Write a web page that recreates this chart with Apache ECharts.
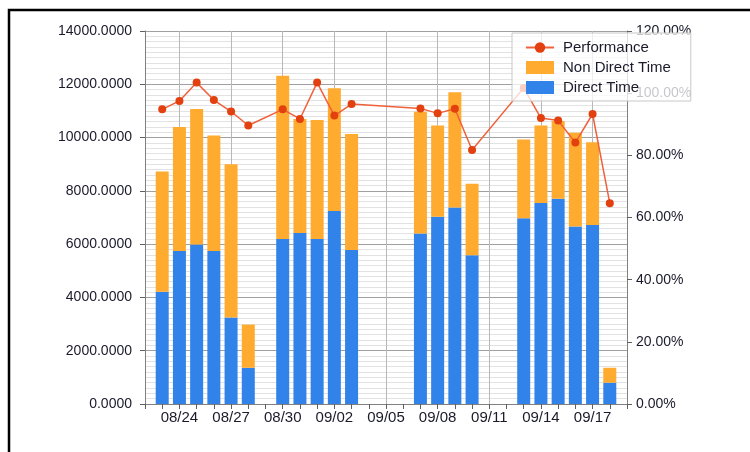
<!DOCTYPE html>
<html lang="en">
<head>
    <meta charset="UTF-8" />
    <title>Performance</title>
    <style>
        body {
            margin: 0;
            padding: 0;
            background: #fff;
        }
        .chart {
            width: 750px;
            height: 452px;
        }
    </style>
</head>
<body>
<div class="chart"></div>
<script src="https://cdn.jsdelivr.net/npm/echarts@6/dist/echarts.min.js"></script>
<script>
    // axis runs 08/22 .. 09/19, one category per day
    const days = ['08/22', '08/23', '08/24', '08/25', '08/26', '08/27', '08/28', '08/29', '08/30', '08/31',
        '09/01', '09/02', '09/03', '09/04', '09/05', '09/06', '09/07', '09/08', '09/09', '09/10',
        '09/11', '09/12', '09/13', '09/14', '09/15', '09/16', '09/17', '09/18', '09/19'];

    // days that have data
    const dates = ['08/23', '08/24', '08/25', '08/26', '08/27', '08/28',
        '08/30', '08/31', '09/01', '09/02', '09/03',
        '09/07', '09/08', '09/09', '09/10',
        '09/13', '09/14', '09/15', '09/16', '09/17', '09/18'];
    const directTime = [4210, 5740, 5990, 5740, 3250, 1360,
        6190, 6420, 6190, 7240, 5780,
        6400, 7030, 7380, 5580,
        6970, 7540, 7700, 6660, 6720, 800];
    const nonDirectTime = [4520, 4660, 5080, 4340, 5750, 1620,
        6130, 4280, 4470, 4610, 4350,
        4570, 3420, 4320, 2690,
        2960, 2910, 2920, 3520, 3100, 560];
    const performance = [94.8, 97.5, 103.4, 97.8, 94.1, 89.6,
        94.8, 91.7, 103.4, 92.8, 96.5,
        95.1, 93.5, 95.0, 81.7,
        101.7, 92.0, 91.2, 84.1, 93.3, 64.6];

    function onAxis(values) {
        return days.map(d => {
            const i = dates.indexOf(d);
            return i < 0 ? null : values[i];
        });
    }

    // labels and vertical grid every 3 days from 08/24
    const everyThird = (idx) => idx >= 2 && (idx - 2) % 3 === 0;

    const font = 'Liberation Sans';
    const textColor = '#1a1a2a';

    const chart = echarts.init(document.querySelector('.chart'));
    const option = {
        animation: false,
        textStyle: { fontFamily: font },
        graphic: [{
            type: 'rect',
            shape: { x: 9, y: 10, width: 1000, height: 1000 },
            style: { fill: 'none', stroke: '#000', lineWidth: 2.5 },
            silent: true
        }],
        grid: { left: 145, right: 123, top: 31, bottom: 48 },
        legend: {
            data: [
                { name: 'Performance' },
                { name: 'Non Direct Time', icon: 'rect' },
                { name: 'Direct Time', icon: 'rect' }
            ],
            orient: 'vertical',
            left: 512,
            top: 33,
            padding: [7, 20, 6, 13],
            itemWidth: 28,
            itemHeight: 13,
            itemGap: 5,
            backgroundColor: 'rgba(255,255,255,0.75)',
            borderColor: '#c8c8c8',
            borderWidth: 1,
            z: 10,
            textStyle: { fontFamily: font, fontSize: 15, color: textColor, lineHeight: 13, padding: [0, 0, 0, 4] }
        },
        xAxis: {
            type: 'category',
            data: days,
            boundaryGap: false,
            axisLine: { lineStyle: { color: '#808080' } },
            axisTick: { show: true, interval: 0, length: 5, lineStyle: { color: '#606060' } },
            axisLabel: {
                interval: everyThird,
                fontFamily: font,
                fontSize: 15,
                color: textColor,
                margin: 6
            },
            splitLine: {
                show: true,
                interval: everyThird,
                lineStyle: { color: '#b8b8b8' }
            }
        },
        yAxis: [{
            type: 'value',
            min: 0,
            max: 14000,
            interval: 2000,
            axisLine: { show: true, lineStyle: { color: '#808080' } },
            axisTick: { show: true, length: 5, lineStyle: { color: '#606060' } },
            axisLabel: {
                fontFamily: font,
                fontSize: 14,
                color: textColor,
                margin: 13,
                formatter: v => v.toFixed(4)
            },
            splitLine: { lineStyle: { color: '#a0a0a0' } },
            minorTick: { show: false, splitNumber: 10 },
            minorSplitLine: { show: true, lineStyle: { color: '#e2e2e2' } }
        }, {
            type: 'value',
            min: 0,
            max: 120,
            interval: 20,
            axisLine: { show: true, lineStyle: { color: '#808080' } },
            axisTick: { show: true, length: 5, lineStyle: { color: '#606060' } },
            axisLabel: {
                fontFamily: font,
                fontSize: 14,
                color: textColor,
                margin: 9,
                formatter: v => v.toFixed(2) + '%'
            },
            splitLine: { show: false }
        }],
        series: [
            {
                name: 'Direct Time',
                type: 'bar',
                stack: 'time',
                barWidth: 13,
                itemStyle: { color: '#3283e9' },
                data: onAxis(directTime)
            },
            {
                name: 'Non Direct Time',
                type: 'bar',
                stack: 'time',
                barWidth: 13,
                itemStyle: { color: '#ffab2f' },
                data: onAxis(nonDirectTime)
            },
            {
                name: 'Performance',
                type: 'line',
                yAxisIndex: 1,
                connectNulls: true,
                symbol: 'circle',
                symbolSize: 8,
                lineStyle: { color: '#f0603a', width: 1.5 },
                itemStyle: { color: '#e2400e' },
                z: 5,
                data: onAxis(performance)
            }
        ]
    };
    chart.setOption(option);
</script>
</body>
</html>
